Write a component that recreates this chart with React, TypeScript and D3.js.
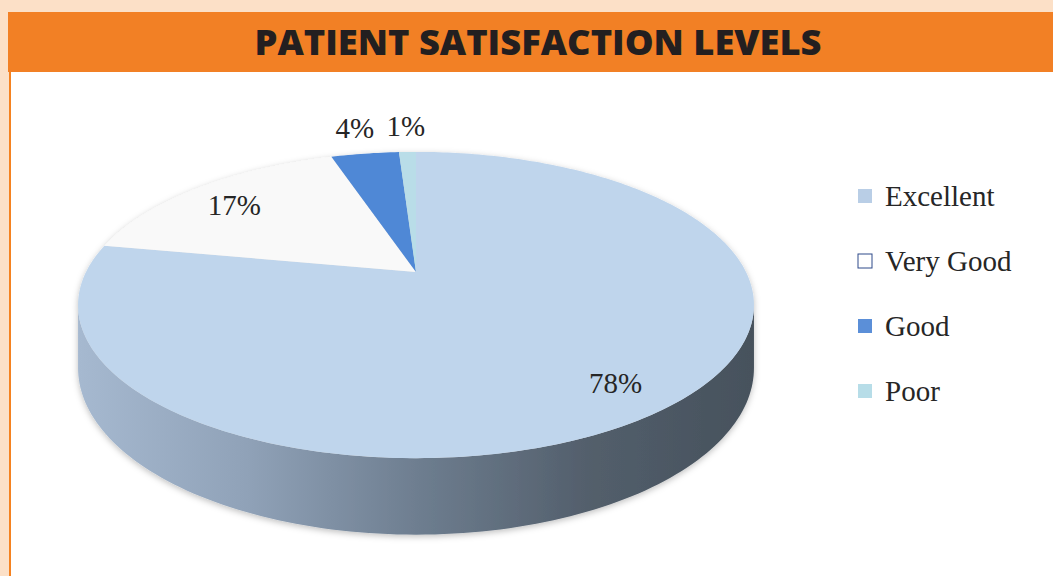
import React, { useEffect, useRef } from 'react';
import * as d3 from 'd3';

// chart data
const categories = ['Excellent', 'Very Good', 'Good', 'Poor'];
const values = [78, 17, 4, 1];
const sliceColors = ['#BFD5EC', '#F9F9F9', '#4F88D6', '#B9DDE8'];
const legendColors = ['#B9CEE6', '#FFFFFF', '#5B8FD8', '#B7DDE8'];
const title = 'PATIENT SATISFACTION LEVELS';

const App = () => {
  const svgRef = useRef<SVGSVGElement | null>(null);

  useEffect(() => {
    if (!svgRef.current) return;
    const svg = d3.select(svgRef.current);
    svg.selectAll('*').remove();

    const width = 1053;
    const height = 576;

    // background frame
    svg.append('rect').attr('width', width).attr('height', height).attr('fill', '#FCE0C7');
    svg.append('rect').attr('x', 9).attr('y', 72).attr('width', width - 9).attr('height', height - 72).attr('fill', '#F58220');
    svg.append('rect').attr('x', 11).attr('y', 72).attr('width', width - 11).attr('height', height - 72).attr('fill', '#FFFFFF');
    svg.append('rect').attr('x', 8).attr('y', 12).attr('width', width - 8).attr('height', 60).attr('fill', '#F28025');

    svg.append('text')
      .attr('x', 538)
      .attr('y', 55)
      .attr('text-anchor', 'middle')
      .attr('font-family', '"Open Sans", sans-serif')
      .attr('font-weight', 800)
      .attr('font-size', 35)
      .attr('fill', '#231F20')
      .attr('textLength', 567)
      .attr('lengthAdjust', 'spacingAndGlyphs')
      .text(title);

    // 3D pie projection (simple perspective)
    const cx = 416, cy = 272, rx = 330, ry = 146, p = 0.2157, depth = 60;
    const project = (a: number, r: number, h: number): [number, number] => {
      const X = Math.sin(a) * r;
      const Y = -Math.cos(a) * r;
      const w = 1 / (1 - p * Y);
      return [cx + rx * X * w, cy + (ry * Y + h * depth) * w];
    };

    const defs = svg.append('defs');
    const grad = defs.append('linearGradient')
      .attr('id', 'wallGrad')
      .attr('gradientUnits', 'userSpaceOnUse')
      .attr('x1', cx - rx * 1.03).attr('x2', cx + rx * 1.03)
      .attr('y1', 0).attr('y2', 0);
    [['0%', '#A6B9D0'], ['25%', '#90A2B8'], ['50%', '#6E7E90'], ['75%', '#535F6C'], ['100%', '#46515C']]
      .forEach(([o, c]) => grad.append('stop').attr('offset', o).attr('stop-color', c));

    const shadow = defs.append('filter').attr('id', 'shadow')
      .attr('x', '-10%').attr('y', '-10%').attr('width', '120%').attr('height', '130%');
    shadow.append('feDropShadow')
      .attr('dx', 0).attr('dy', 2).attr('stdDeviation', 3)
      .attr('flood-color', '#000').attr('flood-opacity', 0.25);

    const pie = d3.pie<number>().sort(null).value(d => d);
    const arcs = pie(values);
    const line = d3.line();

    const g = svg.append('g').attr('filter', 'url(#shadow)');

    // front wall
    const a1 = Math.acos(-p);
    const a2 = 2 * Math.PI - a1;
    const steps = d3.range(0, 121).map(i => a1 + (a2 - a1) * i / 120);
    const wallPts = [
      ...steps.map(a => project(a, 1, 0)),
      ...steps.slice().reverse().map(a => project(a, 1, 1)),
    ];
    g.append('path').attr('d', line(wallPts) + 'Z').attr('fill', 'url(#wallGrad)');

    // top face slices
    arcs.forEach((d, i) => {
      const n = Math.max(4, Math.ceil((d.endAngle - d.startAngle) * 60));
      const pts: [number, number][] = [project(0, 0, 0)];
      for (let k = 0; k <= n; k++) {
        pts.push(project(d.startAngle + (d.endAngle - d.startAngle) * k / n, 1, 0));
      }
      g.append('path').attr('d', line(pts) + 'Z').attr('fill', sliceColors[i]);
    });

    // data labels
    arcs.forEach((d, i) => {
      const mid = (d.startAngle + d.endAngle) / 2;
      const outside = values[i] < 10;
      const [lx, ly] = project(mid, outside ? 1.25 : 0.82, 0);
      svg.append('text')
        .attr('x', lx)
        .attr('y', ly + (outside ? -2 : 4))
        .attr('text-anchor', 'middle')
        .attr('dominant-baseline', 'central')
        .attr('font-family', '"Liberation Serif", "Times New Roman", serif')
        .attr('font-size', 29)
        .attr('fill', '#262626')
        .text(`${values[i]}%`);
    });

    // legend
    const ly = d3.scalePoint<string>().domain(categories).range([196, 391]);
    const leg = svg.append('g');
    categories.forEach((c, i) => {
      const y = ly(c) as number;
      leg.append('rect')
        .attr('x', 858).attr('y', y - 7)
        .attr('width', 14).attr('height', 14)
        .attr('fill', legendColors[i])
        .attr('stroke', i === 1 ? '#2E4A8A' : 'none')
        .attr('stroke-width', 1);
      leg.append('text')
        .attr('x', 885).attr('y', y)
        .attr('dominant-baseline', 'central')
        .attr('font-family', '"Liberation Serif", "Times New Roman", serif')
        .attr('font-size', 29)
        .attr('fill', '#262626')
        .text(c);
    });
  }, []);

  return (
    <svg ref={svgRef} width={1053} height={576}
      style={{ position: 'absolute', left: 0, top: 0, display: 'block' }} />
  );
};

export default App;
